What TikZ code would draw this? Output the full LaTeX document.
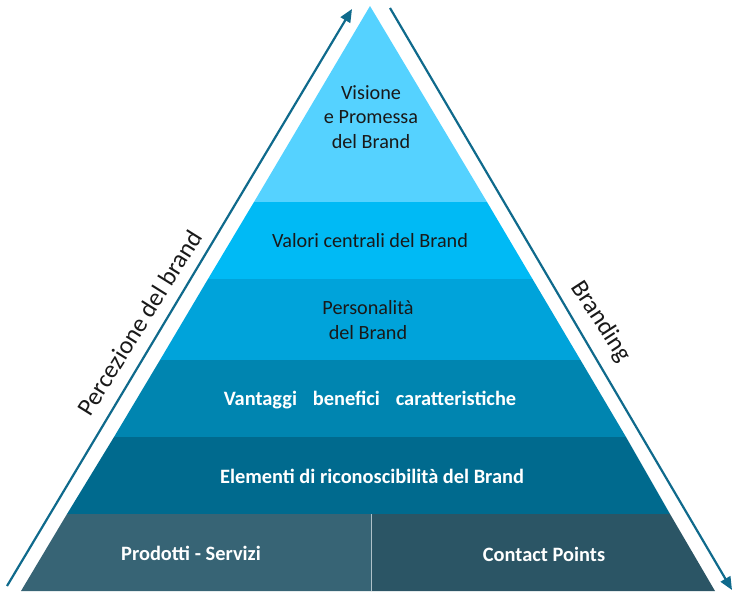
\documentclass[tikz,border=0pt]{standalone}
\usepackage{fontspec}
\setmainfont{Carlito}
\usetikzlibrary{arrows.meta}
\definecolor{lay1}{HTML}{55D2FF}
\definecolor{lay2}{HTML}{00BAF5}
\definecolor{lay3}{HTML}{00A3DA}
\definecolor{lay4}{HTML}{0085B0}
\definecolor{lay5}{HTML}{006A8E}
\definecolor{lay6}{HTML}{376475}
\definecolor{lay7}{HTML}{2B5565}
\definecolor{arr}{HTML}{0F6A8C}
\tikzset{
  lbl/.style={font=\fontsize{20.2}{24.8}\selectfont,align=center,text=black!90,inner sep=0pt},
  wlbl/.style={font=\fontsize{20.4}{24}\selectfont\bfseries,align=center,text=white,inner sep=0pt},
  side/.style={font=\fontsize{25}{30}\selectfont,text=black!90,inner sep=0pt},
  flow/.style={draw=arr,line width=2.2pt,-{Triangle[length=13pt,width=11pt]}},
}
\begin{document}
\begin{tikzpicture}[x=1pt,y=-1pt]
\useasboundingbox (0,0) rectangle (736,598);
\fill[lay1] (370,6) -- (487,202) -- (254,202) -- cycle;
\fill[lay2] (254,202) -- (487,202) -- (532.5,279) -- (208,279) -- cycle;
\fill[lay3] (208,279) -- (532.5,279) -- (580.5,360) -- (160,360) -- cycle;
\fill[lay4] (160,360) -- (580.5,360) -- (626,437) -- (114,437) -- cycle;
\fill[lay5] (114,437) -- (626,437) -- (670,514) -- (67,514) -- cycle;
\fill[lay6] (67,514) -- (371,514) -- (371,591) -- (21,591) -- cycle;
\fill[lay7] (371,514) -- (670,514) -- (715,591) -- (371,591) -- cycle;
\draw[white!60!lay6,line width=0.7pt] (371,514) -- (371,591);
\node[lbl] (n1) at (371,117) {Visione\\e Promessa\\del Brand};
\node[lbl] (n2) at (370,241) {Valori centrali del Brand};
\node[lbl] (n3) at (368,320) {Personalità\\del Brand};
\node[wlbl] (n4) at (370,400.5) {Vantaggi\hspace{0.55em} benefici\hspace{0.55em} caratteristiche};
\node[wlbl] (n5) at (372,476.5) {Elementi di riconoscibilità del Brand};
\node[wlbl] (n6) at (191,553) {Prodotti - Servizi};
\node[wlbl] (n7) at (544,554) {Contact Points};
\coordinate (a1) at (7,586);
\coordinate (a2) at (352,9);
\coordinate (b1) at (390,8);
\coordinate (b2) at (732,590);
\draw[flow] (a1) -- (a2);
\draw[flow] (b1) -- (b2);
\node[side,rotate=58] (p) at (139.5,323) {Percezione del brand};
\node[side,rotate=-57] (q) at (601,322) {Branding};
\end{tikzpicture}
\end{document}
